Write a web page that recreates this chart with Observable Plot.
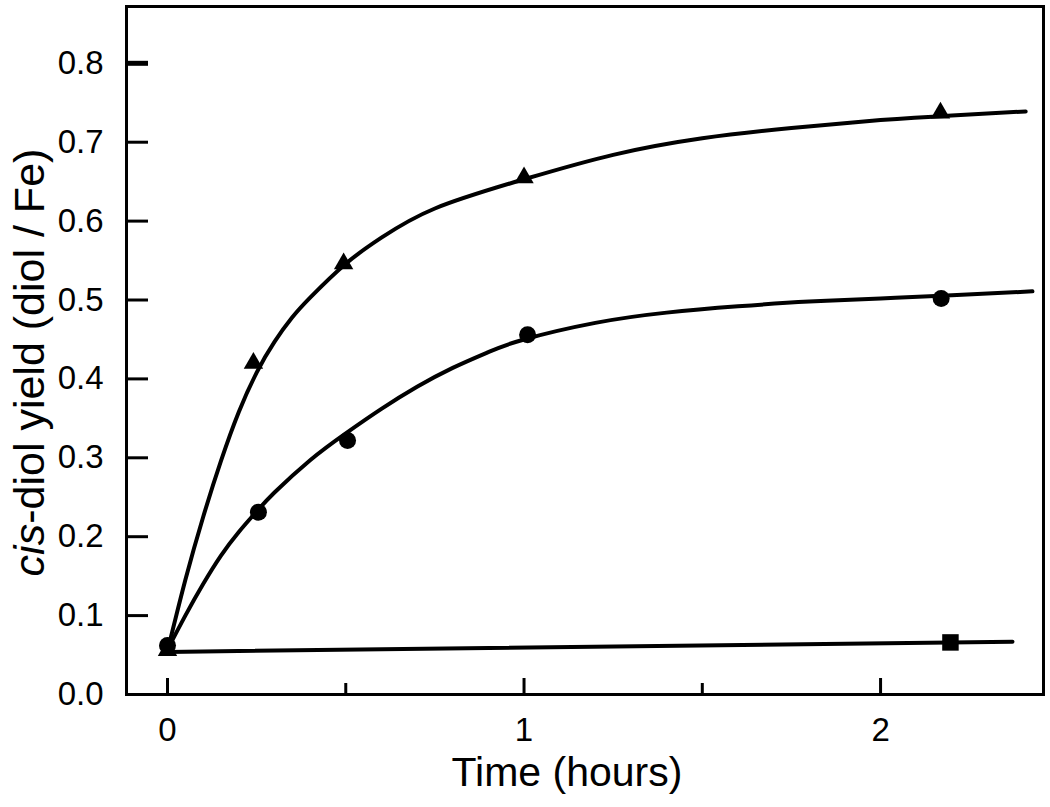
<!DOCTYPE html>
<html>
<head>
<meta charset="utf-8">
<script src="https://cdn.jsdelivr.net/npm/d3@7"></script>
<script src="https://cdn.jsdelivr.net/npm/@observablehq/plot@0.6"></script>
<style>
  html, body { margin: 0; padding: 0; background: #fff; }
  #chart { width: 1050px; height: 807px; }
</style>
</head>
<body>
<div id="chart"></div>
<script>
// ---- data ----
// measured points (time in hours, cis-diol yield in diol / Fe)
const triangleT = [0, 0.241, 0.494, 1.0, 2.168];
const triangleY = [0.056, 0.420, 0.546, 0.655, 0.737];
const circleT   = [0, 0.255, 0.505, 1.01, 2.17];
const circleY   = [0.062, 0.231, 0.322, 0.456, 0.502];
const squareT   = [2.196];
const squareY   = [0.066];

// fitted curves, points
const triFitT = [0, 0.05, 0.1, 0.15, 0.2, 0.25, 0.3, 0.35, 0.4, 0.5, 0.6, 0.75, 1.0, 1.25, 1.5, 1.75, 2.0, 2.2, 2.407];
const triFitY = [0.055, 0.145, 0.225, 0.296, 0.358, 0.408, 0.447, 0.478, 0.503, 0.546, 0.579, 0.616, 0.653, 0.684, 0.705, 0.718, 0.728, 0.734, 0.739];
const cirFitT = [0, 0.05, 0.1, 0.15, 0.2, 0.25, 0.3, 0.4, 0.5, 0.6, 0.7, 0.8, 0.9, 1.0, 1.2, 1.4, 1.6, 1.8, 2.0, 2.2, 2.426];
const cirFitY = [0.057, 0.100, 0.140, 0.176, 0.206, 0.232, 0.256, 0.297, 0.331, 0.362, 0.390, 0.414, 0.434, 0.450, 0.471, 0.484, 0.492, 0.498, 0.502, 0.506, 0.511];
const sqFitT  = [0, 2.37];
const sqFitY  = [0.054, 0.067];

// axes
const yTicks = [0, 0.1, 0.2, 0.3, 0.4, 0.5, 0.6, 0.7, 0.8];
const xMajorTicks = [0, 1, 2];
const xMinorTicks = [0.5, 1.5];
const xTitle = "Time (hours)";
const yTitle = "cis-diol yield (diol / Fe)";

// ---- build tables ----
const zip = (ts, ys) => ts.map((t, i) => ({t, y: ys[i]}));
const triPts = zip(triangleT, triangleY);
const cirPts = zip(circleT, circleY);
const sqPts  = zip(squareT, squareY);
const triFit = zip(triFitT, triFitY);
const cirFit = zip(cirFitT, cirFitY);
const sqFit  = zip(sqFitT, sqFitY);

const font = "'Liberation Sans', Arial, Helvetica, sans-serif";

const chart = Plot.plot({
  width: 1050,
  height: 807,
  marginLeft: 126,
  marginRight: 7,
  marginTop: 6,
  marginBottom: 113,
  x: {domain: [-0.115, 2.457]},
  y: {domain: [0, 0.872]},
  style: {fontFamily: font, background: "#fff", color: "#000"},
  marks: [
    // fitted curves
    Plot.line(triFit, {x: "t", y: "y", curve: "natural", stroke: "#000", strokeWidth: 4}),
    Plot.line(cirFit, {x: "t", y: "y", curve: "natural", stroke: "#000", strokeWidth: 4}),
    Plot.line(sqFit,  {x: "t", y: "y", stroke: "#000", strokeWidth: 4}),
    // markers
    Plot.dot(triPts, {x: "t", y: "y", symbol: "triangle", r: 7.2, fill: "#000", stroke: "none"}),
    Plot.dot(cirPts, {x: "t", y: "y", symbol: "circle", r: 8.5, fill: "#000", stroke: "none"}),
    Plot.dot(sqPts,  {x: "t", y: "y", symbol: "square", r: 9.3, fill: "#000", stroke: "none"}),
    // inward ticks
    Plot.axisY(yTicks, {anchor: "left", tickSize: 22, dx: 22, strokeWidth: 3, tickFormat: () => "", label: null}),
    Plot.axisY([0.8], {anchor: "left", tickSize: 22, dx: 22, strokeWidth: 5, tickFormat: () => "", label: null}),
    Plot.axisX(xMajorTicks, {anchor: "bottom", tickSize: 16, dy: -16, strokeWidth: 3, tickFormat: () => "", label: null}),
    Plot.axisX(xMinorTicks, {anchor: "bottom", tickSize: 11, dy: -11, strokeWidth: 3, tickFormat: () => "", label: null}),
    // tick labels
    Plot.axisY(yTicks, {anchor: "left", tickSize: 0, tickPadding: 23, fontSize: 33, tickFormat: d3.format(".1f"), label: null}),
    Plot.axisX(xMajorTicks, {anchor: "bottom", tickSize: 0, tickPadding: 23, fontSize: 33, tickFormat: d3.format("d"), label: null}),
    // axis titles
    Plot.text([xTitle], {text: d => d, frameAnchor: "bottom", dx: -18, dy: 91, lineAnchor: "bottom", textAnchor: "middle", fontSize: 41, fill: "#000"}),
    Plot.text([yTitle], {text: d => d, frameAnchor: "left", rotate: -90, dx: -83, dy: 12, lineAnchor: "bottom", textAnchor: "middle", fontSize: 43, fill: "#000"}),
    // frame
    Plot.frame({stroke: "#000", strokeWidth: 3})
  ]
});

// italic "cis" in the y title
const ns = "http://www.w3.org/2000/svg";
const yt = [...chart.querySelectorAll("text")].find(e => e.textContent === yTitle);
if (yt) {
  yt.textContent = "";
  const a = document.createElementNS(ns, "tspan");
  a.setAttribute("font-style", "italic");
  a.textContent = "cis";
  const b = document.createElementNS(ns, "tspan");
  b.textContent = yTitle.slice(3);
  yt.appendChild(a);
  yt.appendChild(b);
}

document.getElementById("chart").appendChild(chart);
</script>
</body>
</html>
